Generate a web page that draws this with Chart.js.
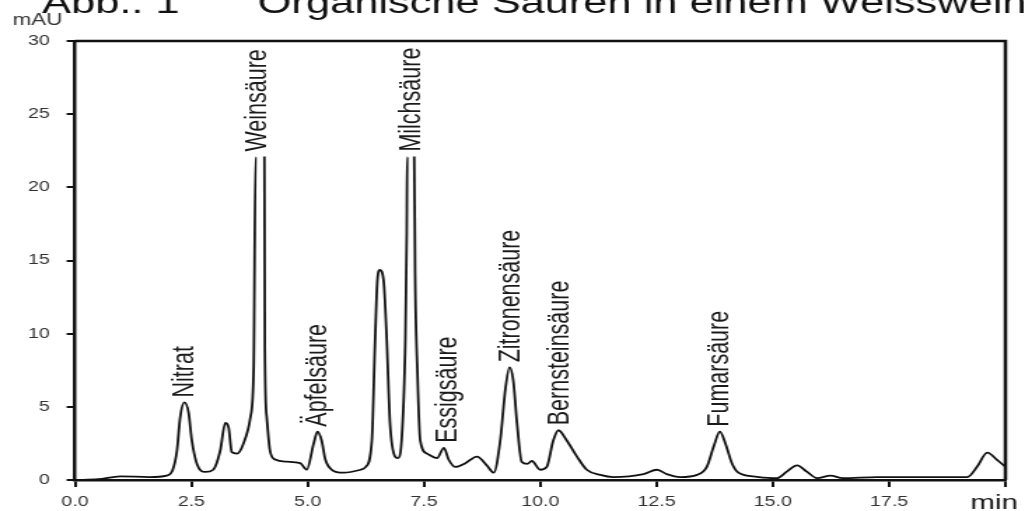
<!DOCTYPE html>
<html>
<head>
<meta charset="utf-8">
<script src="https://cdn.jsdelivr.net/npm/chart.js@4"></script>
<style>
  body { margin: 0; background: #fff; overflow: hidden; }
  /* the original picture is stretched sideways, so the chart is drawn narrow and widened */
  #wrap { position: absolute; left: 0; top: 0; width: 737px; height: 511px; transform: scaleX(1.4003); transform-origin: 0 0; }
</style>
</head>
<body>
<div id="wrap"><canvas id="chart"></canvas></div>
<script>
// retention time (min) and signal (mAU)
const times = [0, 0.5, 0.97, 1.6, 1.97, 2.1, 2.19, 2.26, 2.35, 2.44, 2.51, 2.62, 2.8, 2.97, 3.12, 3.23, 3.3, 3.37, 3.48, 3.62,
  3.77, 3.84, 3.88, 4.07, 4.08, 4.12, 4.19, 4.3, 4.55, 4.84, 4.98, 5.13, 5.21, 5.3, 5.38, 5.52, 5.77, 6.14, 6.25, 6.38,
  6.45, 6.5, 6.55, 6.63, 6.7, 6.77, 6.88, 6.94, 7.03, 7.1, 7.13, 7.14, 7.29, 7.31, 7.36, 7.42, 7.57, 7.78, 7.93, 8.03,
  8.17, 8.39, 8.64, 8.85, 9.0, 9.14, 9.25, 9.34, 9.42, 9.5, 9.6, 9.72, 9.82, 10.0, 10.14, 10.28, 10.39, 10.57, 10.79, 11.0, 11.29,
  11.57, 12.22, 12.51, 12.72, 13.01, 13.37, 13.58, 13.73, 13.86, 13.98, 14.12, 14.26, 14.66, 15.09, 15.3, 15.52, 15.73, 15.95, 16.24, 16.5,
  17.24, 19.18, 19.39, 19.61, 19.82, 20.0];
const absorbance = [0, 0.05, 0.25, 0.2, 0.3, 0.7, 2.0, 4.3, 5.3, 4.6, 2.7, 1.1, 0.55, 0.7, 2.0, 3.9, 3.6, 1.9, 1.8, 2.5,
  4.3, 7.7, 22.1, 22.1, 8.9, 4.3, 2.0, 1.4, 1.25, 1.15, 0.7, 2.5, 3.3, 2.7, 1.4, 0.7, 0.5, 0.7, 0.9, 2.7,
  9.6, 13.7, 14.35, 13.7, 9.6, 3.9, 1.6, 1.5, 3.2, 9.6, 16.9, 22.1, 22.1, 14.1, 7.3, 2.7, 1.8, 1.5, 2.2, 1.4,
  0.9, 1.15, 1.6, 1.0, 0.5, 2.7, 6.2, 7.7, 6.8, 3.9, 1.25, 1.1, 1.3, 0.7, 0.9, 2.7, 3.4, 2.7, 1.6, 0.7, 0.35,
  0.2, 0.4, 0.7, 0.4, 0.2, 0.35, 0.9, 2.3, 3.3, 2.5, 1.15, 0.5, 0.22, 0.12, 0.57, 1.0, 0.57, 0.13, 0.3, 0.13,
  0.2, 0.2, 0.9, 1.87, 1.37, 0.9];

// peak names and where they stand
const peakNames = ['Nitrat', 'Weinsäure', 'Äpfelsäure', 'Milchsäure', 'Essigsäure', 'Zitronensäure', 'Bernsteinsäure', 'Fumarsäure'];
const peakTimes = [2.35, 3.93, 5.21, 7.24, 8.03, 9.38, 10.42, 13.87];

const yTicks = [0, 5, 10, 15, 20, 25, 30];

const font = '"Liberation Sans", Arial, sans-serif';
Chart.defaults.font.family = font;

// labels, titles and the closed frame
const annotate = {
  id: 'annotate',
  afterDatasetsDraw(chart) {
    const { ctx, chartArea: a, scales: { x, y } } = chart;
    ctx.save();

    ctx.strokeStyle = '#111';
    ctx.lineWidth = 2.5;
    ctx.beginPath();
    ctx.moveTo(a.left, a.top);
    ctx.lineTo(a.right, a.top);
    ctx.lineTo(a.right, a.bottom);
    ctx.stroke();

    ctx.fillStyle = '#1a1a1a';
    ctx.font = '21.5px ' + font;
    ctx.textAlign = 'left';
    ctx.textBaseline = 'middle';
    peakNames.forEach((name, i) => {
      const t = peakTimes[i];
      let top = 0;
      times.forEach((tt, j) => {
        if (Math.abs(tt - t) < 0.15) top = Math.max(top, absorbance[j]);
      });
      ctx.save();
      ctx.translate(x.getPixelForValue(t), y.getPixelForValue(top) - 5);
      ctx.rotate(-Math.PI / 2);
      ctx.fillText(name, 0, 0);
      ctx.restore();
    });

    ctx.textBaseline = 'alphabetic';
    ctx.fillStyle = '#111';
    ctx.font = '31px ' + font;
    ctx.fillText('Abb.: 1', 30, 13);
    ctx.fillText('Organische Säuren in einem Weisswein', 184, 13);

    ctx.fillStyle = '#333';
    ctx.font = '16px ' + font;
    ctx.fillText('mAU', 9, 25);
    ctx.fillStyle = '#111';
    ctx.font = '21px ' + font;
    ctx.fillText('min', 693, 509);

    ctx.restore();
  }
};

new Chart(document.querySelector('#chart'), {
  type: 'line',
  data: {
    datasets: [{
      data: times.map((t, i) => ({ x: t, y: absorbance[i] })),
      borderColor: '#111',
      borderWidth: 1.8,
      pointRadius: 0,
      cubicInterpolationMode: 'monotone',
      // off-scale peaks are left open at the top
      segment: {
        borderColor: c => (c.p0.parsed.y > 20 && c.p1.parsed.y > 20) ? 'rgba(0,0,0,0)' : undefined
      }
    }]
  },
  options: {
    responsive: true,
    maintainAspectRatio: false,
    animation: false,
    layout: { padding: { top: 41, right: 19, left: 0, bottom: 0 } },
    plugins: { legend: { display: false }, tooltip: { enabled: false } },
    scales: {
      x: {
        type: 'linear',
        min: 0,
        max: 20,
        ticks: {
          stepSize: 2.5,
          autoSkip: false,
          maxRotation: 0,
          padding: 7,
          color: '#333',
          font: { size: 14 },
          callback: v => v < 20 ? v.toFixed(1) : ''
        },
        grid: { drawOnChartArea: false, tickLength: 7, lineWidth: 2, color: '#111' },
        border: { color: '#111', width: 2.5 },
        afterFit: s => { s.height = 31; }
      },
      y: {
        min: 0,
        max: 30,
        afterBuildTicks: s => { s.ticks = yTicks.map(v => ({ value: v })); },
        ticks: { padding: 12, color: '#333', font: { size: 14 } },
        grid: { drawOnChartArea: false, tickLength: 6, lineWidth: 2, color: '#111' },
        border: { color: '#111', width: 2.5 },
        afterFit: s => { s.width = 53.6; }
      }
    }
  },
  plugins: [annotate]
});
</script>
</body>
</html>
